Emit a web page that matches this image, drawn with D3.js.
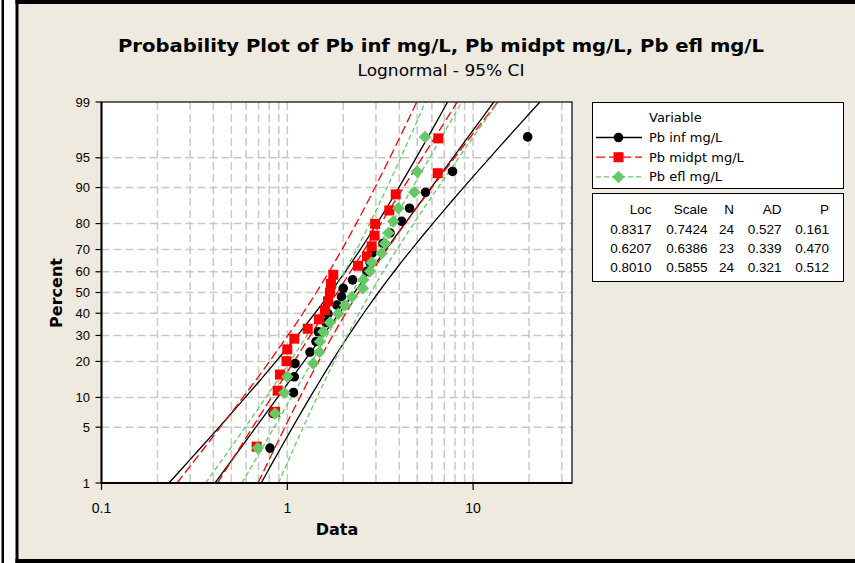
<!DOCTYPE html>
<html><head><meta charset="utf-8">
<script src="https://cdn.jsdelivr.net/npm/d3@7"></script>
<style>html,body{margin:0;padding:0;background:#fff}svg{display:block}</style>
</head><body>
<svg id="c" width="855" height="563"></svg>
<script>
// ---------------- data ----------------
const seriesNames = ["Pb inf mg/L", "Pb midpt mg/L", "Pb efl mg/L"];
const infValues = [0.807,0.838,1.08,1.09,1.10,1.325,1.427,1.468,1.615,1.656,1.851,1.957,2.001,2.244,2.685,2.787,2.858,3.274,3.570,4.128,4.548,5.543,7.747,19.67];
const infPct    = [2.87,6.97,11.07,15.16,19.26,23.36,27.46,31.56,35.66,39.75,43.85,47.95,52.05,56.15,60.25,64.34,68.44,72.54,76.64,80.74,84.84,88.93,93.03,97.13];
const midValues = [0.684,0.859,0.888,0.913,0.99,1.00,1.091,1.288,1.481,1.595,1.656,1.697,1.718,1.768,2.402,2.685,2.847,2.95,2.97,3.540,3.832,6.45,6.50];
const midPct    = [2.99,7.26,11.54,15.81,20.09,24.36,28.63,32.91,37.18,41.45,45.73,50.00,54.27,58.55,62.82,67.09,71.37,75.64,79.91,84.19,88.46,92.74,97.01];
const eflValues = [0.693,0.859,0.964,1.000,1.380,1.49,1.50,1.563,1.697,1.881,2.045,2.230,2.55,2.57,2.787,2.847,3.222,3.357,3.496,3.720,3.958,4.826,4.991,5.509];
const eflPct    = [2.87,6.97,11.07,15.16,19.26,23.36,27.46,31.56,35.66,39.75,43.85,47.95,52.05,56.15,60.25,64.34,68.44,72.54,76.64,80.74,84.84,88.93,93.03,97.13];
const locs   = [0.8317, 0.6207, 0.8010];
const scales = [0.7424, 0.6386, 0.5855];
const ns     = [24, 23, 24];
const ads    = [0.527, 0.339, 0.321];
const pvals  = [0.161, 0.470, 0.512];
const tableHeader = ["Loc", "Scale", "N", "AD", "P"];
const xTickVals = [0.1, 1, 10];
const xTickLabels = ["0.1", "1", "10"];
const xGridVals = [0.2,0.3,0.4,0.5,0.6,0.7,0.8,0.9,1,2,3,4,5,6,7,8,9,10,20,30];
const yTickVals = [1,5,10,20,30,40,50,60,70,80,90,95,99];
const yGridVals = [5,10,20,30,40,50,60,70,80,90,95];
const curvePct = [1,1.5,2,3,4,5,7,10,13,16,20,25,30,35,40,45,50,55,60,65,70,75,80,84,87,90,93,95,96,97,98,98.5,99];

// ---------------- helpers ----------------
function probit(p){
  const a=[-3.969683028665376e+01,2.209460984245205e+02,-2.759285104469687e+02,1.383577518672690e+02,-3.066479806614716e+01,2.506628277459239e+00];
  const b=[-5.447609879822406e+01,1.615858368580409e+02,-1.556989798598866e+02,6.680131188771972e+01,-1.328068155288572e+01];
  const c=[-7.784894002430293e-03,-3.223964580411365e-01,-2.400758277161838e+00,-2.549732539343734e+00,4.374664141464968e+00,2.938163982698783e+00];
  const d=[7.784695709041462e-03,3.224671290700398e-01,2.445134137142996e+00,3.754408661907416e+00];
  const pl=0.02425, ph=1-pl; let q,r;
  if(p<pl){q=Math.sqrt(-2*Math.log(p));return (((((c[0]*q+c[1])*q+c[2])*q+c[3])*q+c[4])*q+c[5])/((((d[0]*q+d[1])*q+d[2])*q+d[3])*q+1);}
  if(p<=ph){q=p-0.5;r=q*q;return (((((a[0]*r+a[1])*r+a[2])*r+a[3])*r+a[4])*r+a[5])*q/(((((b[0]*r+b[1])*r+b[2])*r+b[3])*r+b[4])*r+1);}
  q=Math.sqrt(-2*Math.log(1-p));return -(((((c[0]*q+c[1])*q+c[2])*q+c[3])*q+c[4])*q+c[5])/((((d[0]*q+d[1])*q+d[2])*q+d[3])*q+1);
}

const svg = d3.select("#c");
const W = 855, H = 563;
const L = 101.5, R = 572, T = 102, B = 483;
const x = d3.scaleLog().domain([0.1, 34.07]).range([L, R]);
const yz = d3.scaleLinear().domain([probit(0.01), probit(0.99)]).range([B, T]);
const y = pct => yz(probit(pct / 100));

const BG = "#EEEAE0";
const GREEN = "#66C866";
const colors = ["#000000", "#FF0000", GREEN];
const dashes = [null, "9,4", "5,3"];

// background and frame
svg.append("rect").attr("width", W).attr("height", H).attr("fill", BG);
svg.append("rect").attr("x", 0).attr("y", 0).attr("width", 16).attr("height", H).attr("fill", "#fff");
svg.append("rect").attr("x", 1.5).attr("y", 0).attr("width", 2.5).attr("height", H).attr("fill", "#000");
svg.append("rect").attr("x", 15.5).attr("y", 0).attr("width", 3).attr("height", H).attr("fill", "#000");
svg.append("rect").attr("x", 15.5).attr("y", 0).attr("width", W).attr("height", 4).attr("fill", "#000");
svg.append("rect").attr("x", 15.5).attr("y", 559).attr("width", W).attr("height", 4).attr("fill", "#000");

// titles
svg.append("text").attr("x", 441).attr("y", 52).attr("text-anchor", "middle")
  .attr("font-family", "DejaVu Sans").attr("font-weight", "bold").attr("font-size", 18)
  .attr("textLength", 646).attr("lengthAdjust", "spacingAndGlyphs")
  .text("Probability Plot of Pb inf mg/L, Pb midpt mg/L, Pb efl mg/L");
svg.append("text").attr("x", 441).attr("y", 76).attr("text-anchor", "middle")
  .attr("font-family", "DejaVu Sans").attr("font-size", 15)
  .attr("textLength", 167).attr("lengthAdjust", "spacingAndGlyphs")
  .text("Lognormal - 95% CI");

// plot area
svg.append("rect").attr("x", L).attr("y", T).attr("width", R - L).attr("height", B - T).attr("fill", "#fff");
const grid = svg.append("g").attr("stroke", "#C8C8C8").attr("stroke-width", 1.5).attr("stroke-dasharray", "8,4");
grid.selectAll("line.v").data(xGridVals).join("line").attr("class", "v")
  .attr("x1", d => x(d)).attr("x2", d => x(d)).attr("y1", T).attr("y2", B);
grid.selectAll("line.h").data(yGridVals).join("line").attr("class", "h")
  .attr("x1", L).attr("x2", R).attr("y1", d => y(d)).attr("y2", d => y(d));

svg.append("clipPath").attr("id", "clip").append("rect").attr("x", L).attr("y", T).attr("width", R - L).attr("height", B - T);
const plot = svg.append("g").attr("clip-path", "url(#clip)");

// fitted lines and 95% confidence bounds
const line = d3.line().x(d => x(d[0])).y(d => y(d[1]));
for (let s = 0; s < 3; s++) {
  const mu = locs[s], sg = scales[s], n = ns[s];
  [-1, 0, 1].forEach(k => {
    const pts = curvePct.map(p => {
      const z = probit(p / 100);
      const se = sg * Math.sqrt(1 / n + z * z / (2 * n));
      return [Math.exp(mu + sg * z + k * 1.96 * se), p];
    });
    plot.append("path").attr("d", line(pts)).attr("fill", "none")
      .attr("stroke", colors[s]).attr("stroke-width", 1.3)
      .attr("stroke-dasharray", dashes[s]);
  });
}

// points
const sets = [[infValues, infPct], [midValues, midPct], [eflValues, eflPct]];
function marker(g, s, cx, cy) {
  if (s === 0) g.append("circle").attr("cx", cx).attr("cy", cy).attr("r", 4.8).attr("fill", "#000");
  else if (s === 1) g.append("rect").attr("x", cx - 5).attr("y", cy - 5).attr("width", 10).attr("height", 10).attr("fill", "#FF0000");
  else g.append("path").attr("d", d3.symbol().type(d3.symbolSquare).size(78)())
    .attr("transform", `translate(${cx},${cy}) rotate(45)`).attr("fill", GREEN);
}
for (let s = 0; s < 3; s++) {
  const [vals, pcts] = sets[s];
  const g = svg.append("g");
  vals.forEach((v, i) => marker(g, s, x(v), y(pcts[i])));
}

// frame + axes
svg.append("rect").attr("x", L).attr("y", T).attr("width", R - L).attr("height", B - T)
  .attr("fill", "none").attr("stroke", "#000").attr("stroke-width", 1.2);
svg.append("line").attr("x1", L).attr("x2", L).attr("y1", T).attr("y2", B).attr("stroke", "#000").attr("stroke-width", 2);
svg.append("line").attr("x1", L).attr("x2", R).attr("y1", B).attr("y2", B).attr("stroke", "#000").attr("stroke-width", 2);

const yAx = svg.append("g").attr("font-family", "Liberation Sans, Arial").attr("font-size", 13);
yTickVals.forEach(v => {
  yAx.append("line").attr("x1", L - 6).attr("x2", L).attr("y1", y(v)).attr("y2", y(v)).attr("stroke", "#000").attr("stroke-width", 1.2);
  yAx.append("text").attr("x", 90).attr("y", y(v) + 4.5).attr("text-anchor", "end").attr("fill", "#000").text(v);
});
const xAx = svg.append("g").attr("font-family", "Liberation Sans, Arial").attr("font-size", 14);
xTickVals.forEach((v, i) => {
  xAx.append("line").attr("x1", x(v)).attr("x2", x(v)).attr("y1", B).attr("y2", B + 7).attr("stroke", "#000").attr("stroke-width", 1.2);
  xAx.append("text").attr("x", x(v)).attr("y", 513).attr("text-anchor", "middle").text(xTickLabels[i]);
});

svg.append("text").attr("x", 337).attr("y", 535).attr("text-anchor", "middle")
  .attr("font-family", "DejaVu Sans").attr("font-weight", "bold").attr("font-size", 16).text("Data");
svg.append("text").attr("transform", "translate(62,293) rotate(-90)").attr("text-anchor", "middle")
  .attr("font-family", "DejaVu Sans").attr("font-weight", "bold").attr("font-size", 16).text("Percent");

// legend
const lg = svg.append("g");
lg.append("rect").attr("x", 592.5).attr("y", 102.5).attr("width", 251).attr("height", 86)
  .attr("fill", "#fff").attr("stroke", "#000").attr("stroke-width", 1);
lg.append("text").attr("x", 649).attr("y", 122).attr("font-family", "DejaVu Sans").attr("font-size", 13).text("Variable");
seriesNames.forEach((nm, s) => {
  const yy = 137.5 + s * 19.7;
  lg.append("line").attr("x1", 596).attr("x2", 642).attr("y1", yy).attr("y2", yy)
    .attr("stroke", colors[s]).attr("stroke-width", 1.3).attr("stroke-dasharray", dashes[s]);
  marker(lg, s, 618.5, yy);
  lg.append("text").attr("x", 649).attr("y", yy + 4.5).attr("font-family", "DejaVu Sans").attr("font-size", 13).text(nm);
});

// statistics table
const tb = svg.append("g").attr("font-family", "Liberation Sans, Arial").attr("font-size", 13.5).attr("text-anchor", "end");
tb.append("rect").attr("x", 592.5).attr("y", 193.5).attr("width", 251).attr("height", 88)
  .attr("fill", "#fff").attr("stroke", "#000").attr("stroke-width", 1);
const colRight = [651.5, 707.5, 734, 781.5, 829];
tableHeader.forEach((h, j) => tb.append("text").attr("x", colRight[j]).attr("y", 214).text(h));
for (let s = 0; s < 3; s++) {
  const row = [locs[s].toFixed(4), scales[s].toFixed(4), String(ns[s]), ads[s].toFixed(3), pvals[s].toFixed(3)];
  row.forEach((t, j) => tb.append("text").attr("x", colRight[j]).attr("y", 233.5 + s * 19.3).text(t));
}
</script>
</body></html>
